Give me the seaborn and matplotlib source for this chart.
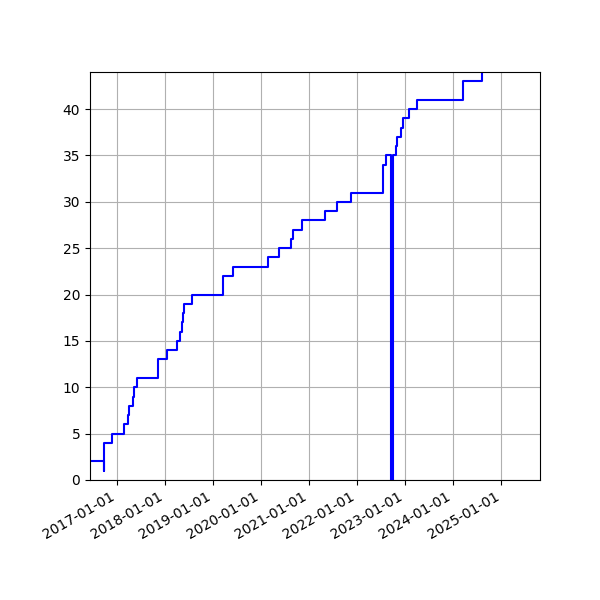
import matplotlib
matplotlib.use("Agg")
import matplotlib.pyplot as plt
import matplotlib.dates as mdates
import seaborn as sns
import pandas as pd

# dates where the running count changes, and the count from that date on
dates = [
    "2016-01-01", "2016-09-20", "2016-09-21", "2016-11-22", "2017-02-21",
    "2017-03-23", "2017-03-31", "2017-04-30", "2017-05-06", "2017-05-31",
    "2017-11-07", "2018-01-12", "2018-04-02", "2018-04-27", "2018-05-06",
    "2018-05-16", "2018-05-26", "2018-07-21", "2019-03-18", "2019-05-31",
    "2020-02-23", "2020-05-15", "2020-08-14", "2020-08-29", "2020-11-08",
    "2021-04-30", "2021-07-28", "2021-11-11", "2022-07-19", "2022-08-06",
    "2022-09-18", "2022-10-03", "2022-10-21", "2022-11-03", "2022-12-03",
    "2022-12-18", "2023-01-27", "2023-03-29", "2024-03-17", "2024-08-06",
    "2025-12-01",
]
counts = [
    2, 1, 4, 5, 6,
    7, 8, 9, 10, 11,
    13, 14, 15, 16, 17,
    18, 19, 20, 22, 23,
    24, 25, 26, 27, 28,
    29, 30, 31, 34, 35,
    0, 35, 36, 37, 38,
    39, 40, 41, 43, 46,
    48,
]

df = pd.DataFrame({"date": pd.to_datetime(dates), "count": counts})

fig, ax = plt.subplots(figsize=(6, 6), dpi=100)
sns.lineplot(data=df, x="date", y="count", ax=ax, color="blue",
             drawstyle="steps-post", estimator=None, sort=False, linewidth=1.5)

ax.set_xlim(pd.Timestamp("2016-06-09"), pd.Timestamp("2025-10-22"))
ax.set_ylim(0, 44)
ax.xaxis.set_major_locator(mdates.YearLocator())
ax.xaxis.set_major_formatter(mdates.DateFormatter("%Y-%m-%d"))
ax.set_xlabel("")
ax.set_ylabel("")
ax.grid(True)

fig.autofmt_xdate()
fig.subplots_adjust(left=0.15, right=0.9, top=0.88, bottom=0.2)
fig.savefig("out.png", dpi=100)
